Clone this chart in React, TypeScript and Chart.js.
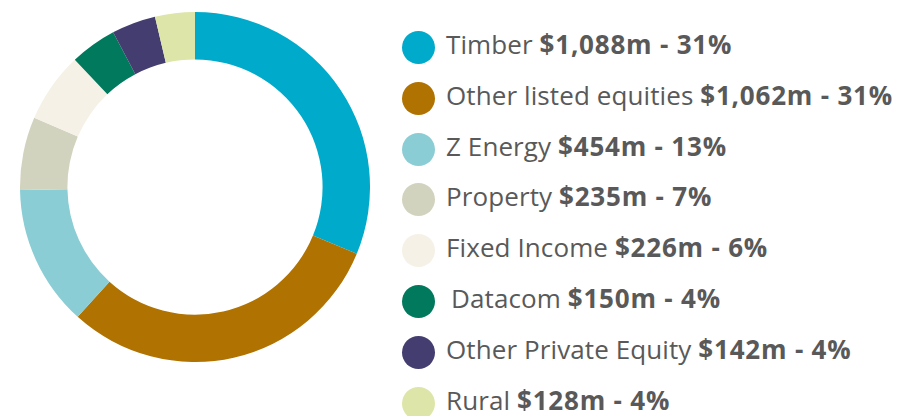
import React, { useEffect, useRef } from "react";
import { Chart, registerables } from "chart.js";

Chart.register(...registerables);

const categories = [
  "Timber",
  "Other listed equities",
  "Z Energy",
  "Property",
  "Fixed Income",
  "Datacom",
  "Other Private Equity",
  "Rural",
];
const values = [1088, 1062, 454, 235, 226, 150, 142, 128];
const valueLabels = [
  "$1,088m - 31%",
  "$1,062m - 31%",
  "$454m - 13%",
  "$235m - 7%",
  "$226m - 6%",
  "$150m - 4%",
  "$142m - 4%",
  "$128m - 4%",
];
const colors = [
  "#00AACB",
  "#B07200",
  "#8BCDD4",
  "#D2D3BE",
  "#F6F1E6",
  "#00795C",
  "#433D70",
  "#DDE5A8",
];

export default function App() {
  const ref = useRef<HTMLCanvasElement>(null);
  useEffect(() => {
    if (!ref.current) return;
    const chart = new Chart(ref.current, {
      type: "doughnut",
      data: {
        labels: categories,
        datasets: [
          {
            data: values,
            backgroundColor: colors,
            borderWidth: 0,
          },
        ],
      },
      options: {
        animation: false,
        responsive: false,
        maintainAspectRatio: false,
        cutout: "72.9%",
        layout: { padding: 0 },
        plugins: { legend: { display: false }, tooltip: { enabled: false } },
      },
    });
    return () => chart.destroy();
  }, []);

  return (
    <div
      style={{
        position: "absolute",
        left: 0,
        top: 0,
        width: 903,
        height: 416,
        background: "#fff",
        overflow: "hidden",
        fontFamily: "'Open Sans', sans-serif",
      }}
    >
      <canvas
        ref={ref}
        width={350}
        height={350}
        style={{ position: "absolute", left: 20, top: 12, width: 350, height: 350 }}
      />
      {categories.map((c, i) => {
        const cy = 47.5 + i * 50.8;
        return (
          <div
            key={c}
            style={{
              position: "absolute",
              left: 402,
              top: cy - 20,
              height: 40,
              display: "flex",
              alignItems: "center",
              whiteSpace: "nowrap",
              color: "#595959",
              fontSize: 26,
            }}
          >
            <span
              style={{
                display: "inline-block",
                width: 33,
                height: 33,
                borderRadius: "50%",
                background: colors[i],
                marginRight: c === "Datacom" ? 16 : 11,
                flex: "none",
              }}
            />
            <span
              style={{
                lineHeight: "40px",
                letterSpacing: 0.1,
                position: "relative",
                top: -3.5,
              }}
            >
              {c}{" "}
              <b style={{ fontWeight: 700, letterSpacing: 0.8 }}>{valueLabels[i]}</b>
            </span>
          </div>
        );
      })}
    </div>
  );
}
